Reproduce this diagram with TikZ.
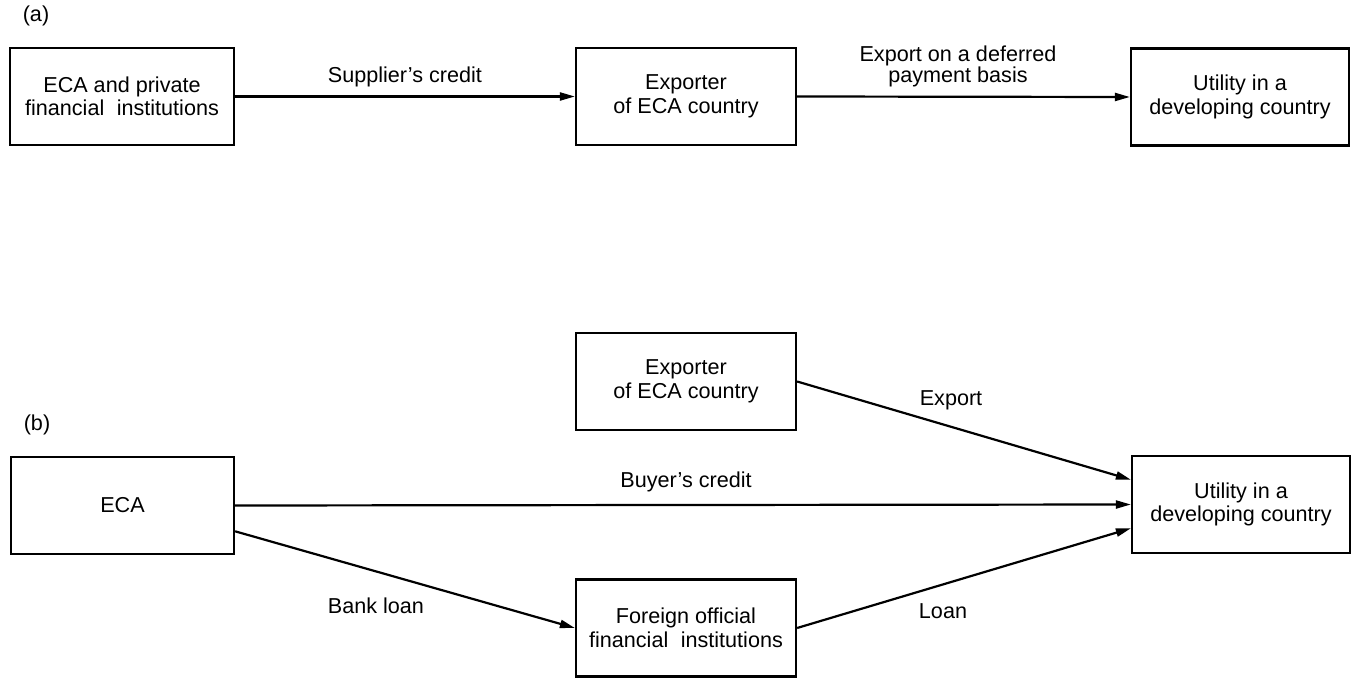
\documentclass[tikz,border=0pt]{standalone}
\usepackage{fontspec}
\setmainfont{Liberation Sans}
\usetikzlibrary{arrows.meta,calc}
\begin{document}
\begin{tikzpicture}[x=1pt,y=-1pt,
  every node/.style={font=\fontsize{21.6}{23.5}\selectfont, inner sep=0pt},
  flowbox/.style={draw, line width=2.2pt, minimum width=220pt, minimum height=97pt, align=center},
  flow/.style={line width=2.2pt, -{Triangle[length=15pt,width=8pt]}},
  lbl/.style={align=center}]
  \useasboundingbox (0,0) rectangle (1355,679);

  % (a) supplier's credit
  \node (pa) at (36,16) {(a)};
  \node[flowbox, minimum width=224pt] (ecapriv) at (122,96.5) {ECA and private\\financial\hspace{0.3em} institutions};
  \node[flowbox] (expa) at (686,96.5) {Exporter\\of ECA country};
  \node[flowbox, minimum width=218pt] (utila) at (1240,97) {Utility in a\\developing country};
  \draw[flow] (ecapriv.east) -- (expa.west);
  \draw[flow] (expa.east) -- (utila.west);
  \node[lbl] (lsup) at (405,77) {Supplier's credit};
  \node[lbl, font=\fontsize{21.6}{21}\selectfont] (ldef) at (958,66) {Export on a deferred\\payment basis};

  % (b) buyer's credit
  \node (pb) at (37,425) {(b)};
  \node[flowbox, minimum width=223pt] (eca) at (122.5,505.5) {ECA};
  \node[flowbox] (expb) at (686,381.5) {Exporter\\of ECA country};
  \node[flowbox] (foreign) at (686,628) {Foreign official\\financial\hspace{0.3em} institutions};
  \node[flowbox, minimum width=218pt] (utilb) at (1241,504.5) {Utility in a\\developing country};
  \draw[flow] (eca.east) -- (utilb.west);
  \draw[flow] ($(eca.north east)!0.76!(eca.south east)$) -- (foreign.west);
  \draw[flow] (expb.east) -- ($(utilb.north west)!0.25!(utilb.south west)$);
  \draw[flow] (foreign.east) -- ($(utilb.north west)!0.74!(utilb.south west)$);
  \node[lbl] (lbuy) at (686,482) {Buyer's credit};
  \node[lbl] (lexp) at (951,400) {Export};
  \node[lbl] (lbank) at (376,606) {Bank loan};
  \node[lbl] (lloan) at (943,611) {Loan};
\end{tikzpicture}
\end{document}
